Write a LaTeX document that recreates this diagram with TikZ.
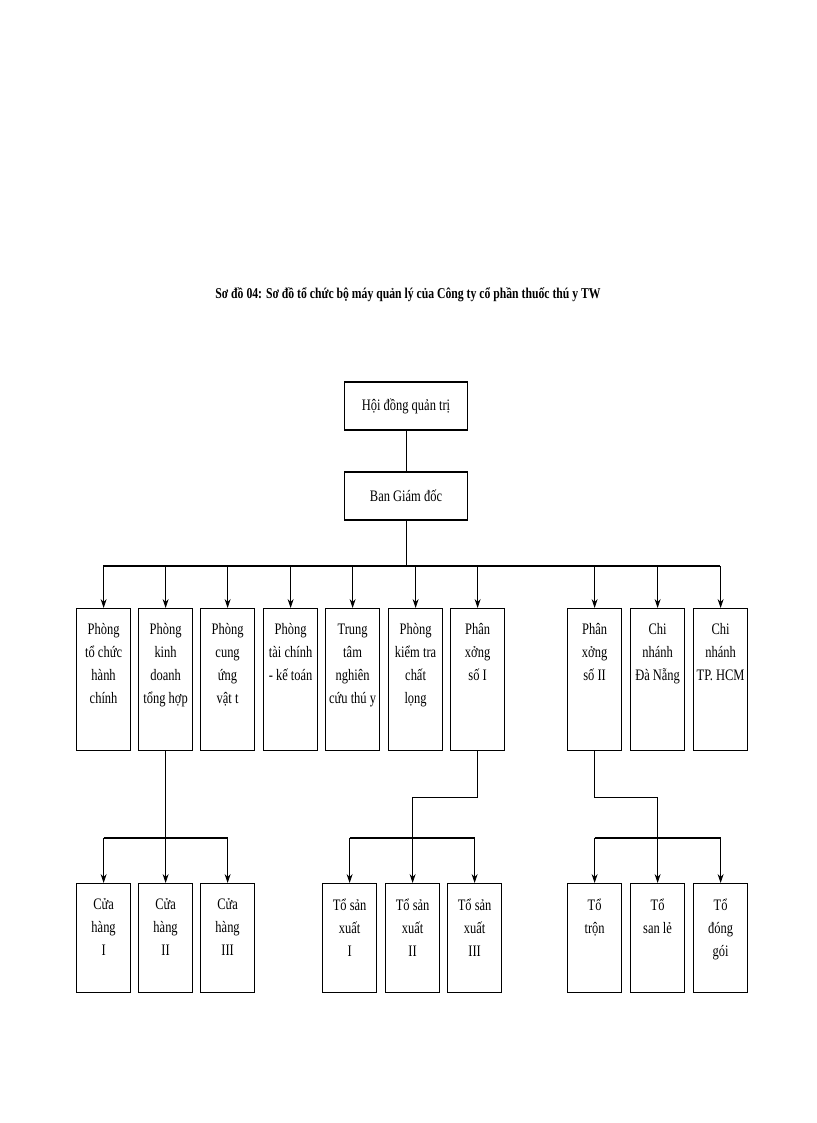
\documentclass[tikz,border=0pt]{standalone}
\usepackage{fontspec}
\setmainfont[FakeStretch=0.78]{Liberation Serif}
\usetikzlibrary{arrows.meta}
\begin{document}
\begin{tikzpicture}[x=1pt,y=-1pt,
 bx/.style={draw,line width=1.2pt,minimum width=54pt,minimum height=142pt,anchor=north west,inner sep=0pt},
 tx/.style={align=center,font=\fontsize{16}{23}\selectfont,anchor=north},
 bus/.style={line width=1.6pt},
 ln/.style={line width=0.8pt},
 ar/.style={line width=0.8pt,-{Stealth[length=9pt,width=6pt]}}]
\useasboundingbox (0,0) rectangle (816,1123);
\node[font=\bfseries\fontsize{15}{18}\selectfont] (title) at (408,295) {Sơ đồ 04: Sơ đồ tổ chức bộ máy quản lý của Công ty cổ phần thuốc thú y TW};
\node[draw,line width=1.2pt,minimum width=123pt,minimum height=48pt,font=\fontsize{16}{20}\selectfont] (hd) at (406,406) {Hội đồng quản trị};
\node[draw,line width=1.2pt,minimum width=123pt,minimum height=48pt,font=\fontsize{16}{20}\selectfont] (bgd) at (406,496) {Ban Giám đốc};
\draw[ln] (hd) -- (bgd);
\coordinate (bt) at (406,566);
\draw[ln] (bgd) -- (bt);
\draw[bus] (103,566) -- (720,566);
% top row
\foreach \n/\x/\t in {a/76/{Phòng\\tổ chức\\hành\\chính},b/138/{Phòng\\kinh\\doanh\\tổng hợp},c/200/{Phòng\\cung\\ứng\\vật t},d/263/{Phòng\\tài chính\\- kế toán},e/325/{Trung\\tâm\\nghiên\\cứu thú y},f/388/{Phòng\\kiểm tra\\chất\\lọng},g/450/{Phân\\xởng\\số I},h/567/{Phân\\xởng\\số II},i/630/{Chi\\nhánh\\Đà Nẵng},j/693/{Chi\\nhánh\\TP. HCM}}{
 \node[bx] (\n) at (\x,608) {};
 \node[tx] at ([yshift=-12pt]\n.north) {\t};
 \coordinate (\n t) at (\n.north|-0,566);
 \draw[ar] (\n t) -- (\n.north);
}
% bottom rows
\foreach \n/\x/\t in {ch1/76/{Cửa\\hàng\\I},ch2/138/{Cửa\\hàng\\II},ch3/200/{Cửa\\hàng\\III},sx1/322/{Tổ sản\\xuất\\I},sx2/385/{Tổ sản\\xuất\\II},sx3/447/{Tổ sản\\xuất\\III},t1/567/{Tổ\\trộn},t2/630/{Tổ\\san lẻ},t3/693/{Tổ\\đóng\\gói}}{
 \node[bx,minimum height=109pt] (\n) at (\x,883) {};
 \node[tx] at ([yshift=-12pt]\n.north) {\t};
 \coordinate (\n t) at (\n.north|-0,838);
 \draw[ar] (\n t) -- (\n.north);
}
\draw[bus] (ch1t) -- (ch3t);
\draw[bus] (sx1t) -- (sx3t);
\draw[bus] (t1t) -- (t3t);
\draw[ln] (b.south) -- (ch2t);
\coordinate (gk) at (g.south|-0,797);
\coordinate (hk) at (h.south|-0,797);
\draw[ln] (g.south) -- (gk) -| (sx2t);
\draw[ln] (h.south) -- (hk) -| (t2t);
\end{tikzpicture}
\end{document}
